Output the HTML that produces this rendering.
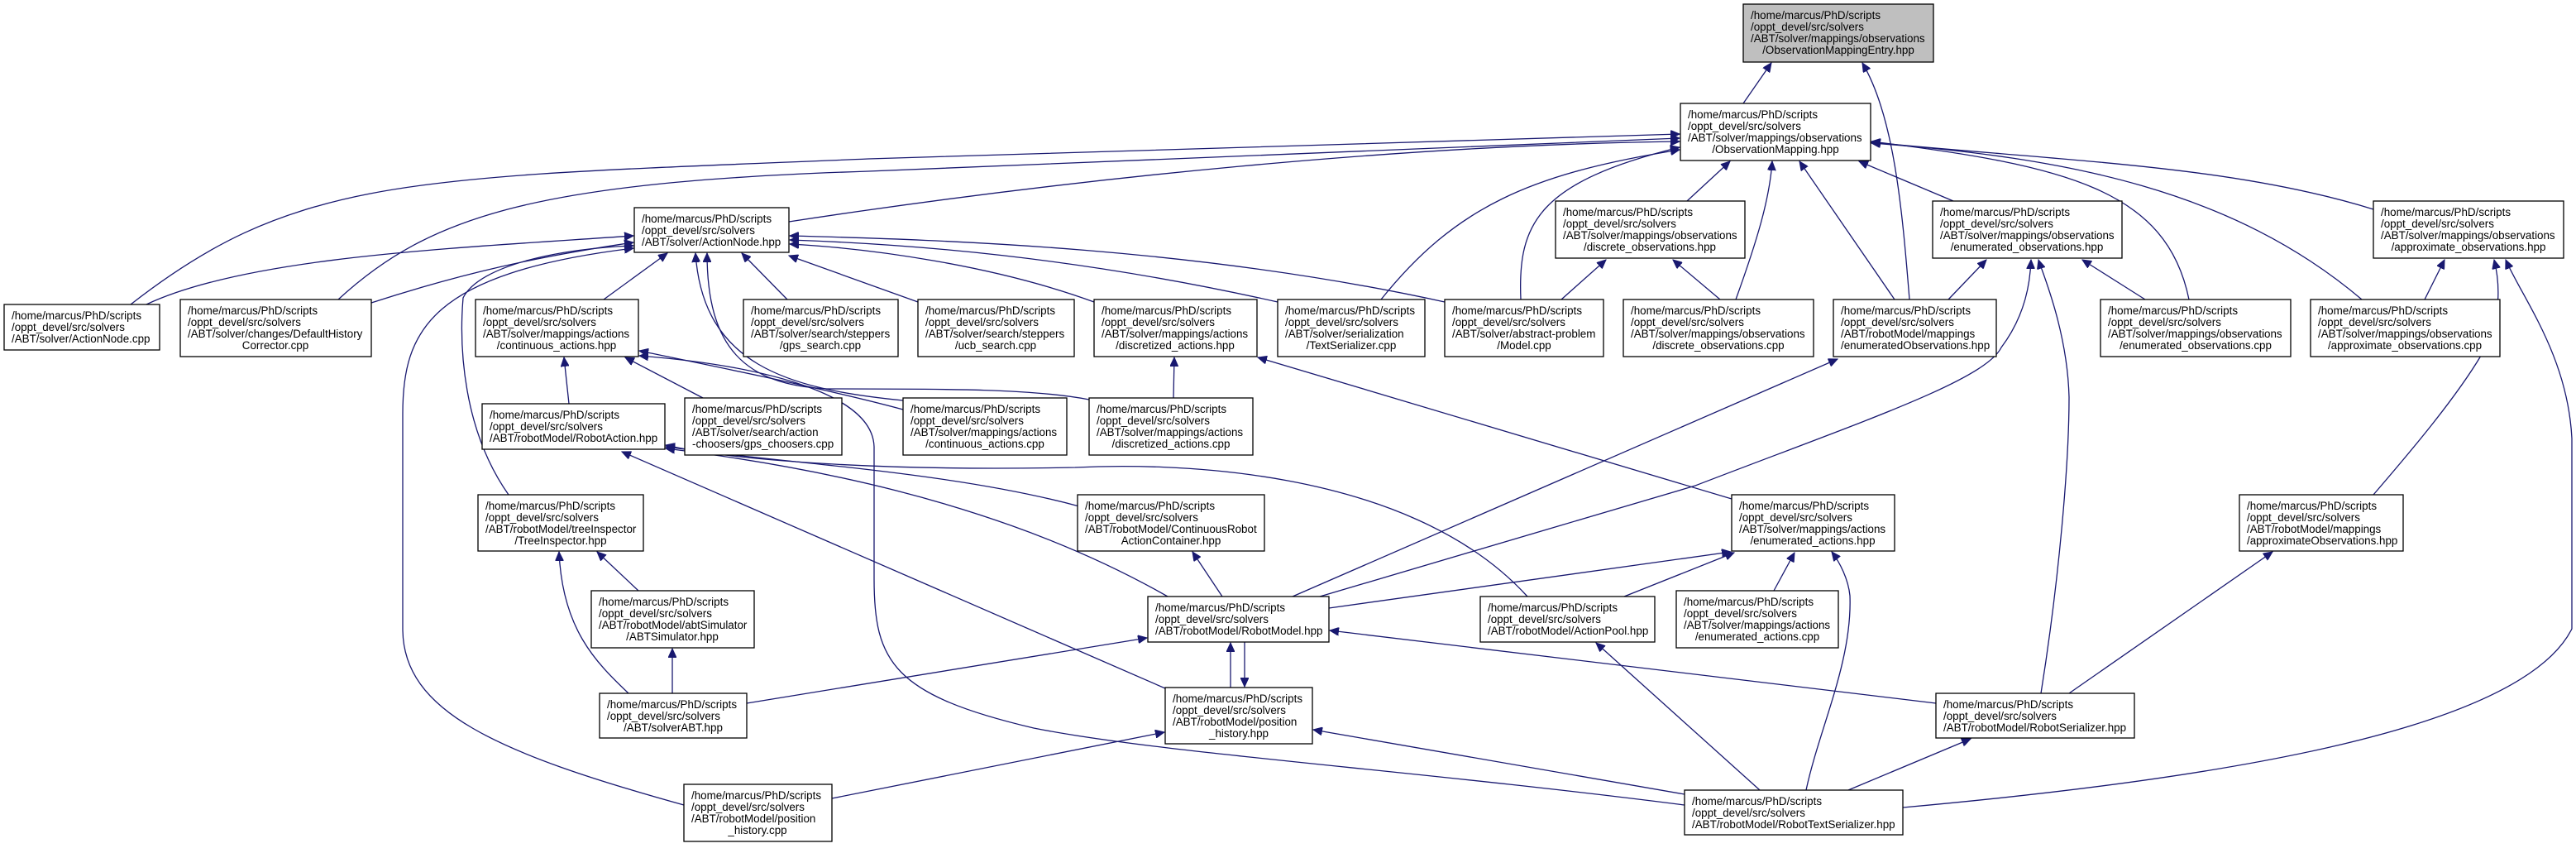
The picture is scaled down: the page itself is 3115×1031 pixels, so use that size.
<!DOCTYPE html>
<html><head><meta charset="utf-8"><style>
html,body{margin:0;padding:0;background:#fff;}
svg{display:block;}
text{font-family:"Liberation Sans",Arial,sans-serif;font-size:13.4px;fill:#000;}
.n{fill:#fff;stroke:#000;stroke-width:1.3;}
.g{fill:#bfbfbf;stroke:#000;stroke-width:1.3;}
.e{fill:none;stroke:#191970;stroke-width:1.3;}
</style></head><body>
<svg width="3115" height="1031" viewBox="0 0 3115 1031" xmlns="http://www.w3.org/2000/svg">
<defs><marker id="a" markerUnits="userSpaceOnUse" markerWidth="12" markerHeight="10" refX="11" refY="5" orient="auto"><path d="M0,0 L11,5 L0,10 z" fill="#191970" stroke="#191970"/></marker></defs>
<g marker-end="url(#a)">
<path class="e" d="M2108,125 L2142,76"/>
<path class="e" d="M2309,362 C2300,250 2290,140 2252,76"/>
<path class="e" d="M954,268 C1300,215 1700,175 2031,171"/>
<path class="e" d="M158,368 C360,210 500,215 1050,192 L2031,162"/>
<path class="e" d="M409,362 C520,260 650,220 1050,207 L2031,167"/>
<path class="e" d="M1670,362 C1760,250 1850,210 2031,181"/>
<path class="e" d="M1839,362 C1835,270 1860,220 2031,178"/>
<path class="e" d="M2040,243 L2092,195"/>
<path class="e" d="M2099,362 C2125,290 2140,240 2143,195"/>
<path class="e" d="M2291,362 L2176,195"/>
<path class="e" d="M2362,243 L2248,195"/>
<path class="e" d="M2647,362 C2620,230 2500,200 2263,171"/>
<path class="e" d="M2856,362 C2700,230 2500,190 2263,173"/>
<path class="e" d="M2870,253 C2700,200 2500,195 2263,172"/>
<path class="e" d="M177,368 C300,310 550,300 766,285"/>
<path class="e" d="M449,366 C560,330 650,310 766,293"/>
<path class="e" d="M730,362 L807,306"/>
<path class="e" d="M952,362 L897,306"/>
<path class="e" d="M1110,365 L954,309"/>
<path class="e" d="M1323,365 C1200,320 1050,300 955,295"/>
<path class="e" d="M1545,365 C1300,310 1100,295 955,290"/>
<path class="e" d="M1747,365 C1450,300 1150,290 955,285"/>
<path class="e" d="M615,598 C560,520 555,420 560,360 C580,320 680,300 766,297"/>
<path class="e" d="M827,973 C600,910 487,860 487,760 L487,500 C487,400 520,330 766,300"/>
<path class="e" d="M1092,484 C950,470 850,440 841,306"/>
<path class="e" d="M1317,483 C1250,470 1150,470 1000,470 C900,465 855,420 855,306"/>
<path class="e" d="M688,488 L682,432"/>
<path class="e" d="M850,481 L756,432"/>
<path class="e" d="M1092,495 C1000,470 850,440 773,424"/>
<path class="e" d="M2037,973 C1700,930 1400,910 1250,880 C1080,840 1057,800 1057,700 L1057,540 C1055,470 900,440 773,430"/>
<path class="e" d="M1478,721 L1442,667"/>
<path class="e" d="M1305,612 C1150,570 950,560 805,540"/>
<path class="e" d="M1412,721 C1200,600 950,560 805,542"/>
<path class="e" d="M1847,721 C1700,560 1400,560 1300,565 C1050,570 880,555 805,538"/>
<path class="e" d="M1409,832 L752,546"/>
<path class="e" d="M1563,721 L2222,434"/>
<path class="e" d="M1596,721 L2050,587 C2250,510 2400,460 2420,420 C2450,380 2455,340 2456,314"/>
<path class="e" d="M1607,735 L2093,667"/>
<path class="e" d="M1964,721 L2097,668"/>
<path class="e" d="M903,850 L1387,771"/>
<path class="e" d="M760,838 C720,800 680,760 676,667"/>
<path class="e" d="M813,838 L813,784"/>
<path class="e" d="M772,714 L722,667"/>
<path class="e" d="M1488,831 L1488,777"/>
<path class="e" d="M1505,776 L1505,830"/>
<path class="e" d="M1006,965 L1408,885"/>
<path class="e" d="M2037,960 L1588,882"/>
<path class="e" d="M2128,955 L1930,777"/>
<path class="e" d="M2184,955 C2200,880 2240,800 2237,720 C2235,700 2225,680 2215,667"/>
<path class="e" d="M2235,955 L2383,893"/>
<path class="e" d="M2301,976 C2700,940 3050,880 3110,760 L3110,530 C3105,430 3050,360 3030,314"/>
<path class="e" d="M2341,850 L1608,762"/>
<path class="e" d="M2468,838 C2490,700 2502,560 2502,480 C2500,400 2470,330 2465,314"/>
<path class="e" d="M2502,838 L2748,667"/>
<path class="e" d="M2870,598 C2920,540 2970,480 3000,430 C3030,380 3020,330 3016,314"/>
<path class="e" d="M2932,362 L2956,314"/>
<path class="e" d="M2594,362 L2518,314"/>
<path class="e" d="M2356,362 L2402,314"/>
<path class="e" d="M2080,362 L2023,314"/>
<path class="e" d="M1888,362 L1942,314"/>
<path class="e" d="M1419,481 L1420,432"/>
<path class="e" d="M2094,603 L1521,432"/>
<path class="e" d="M2145,714 L2170,668"/>
</g>

<rect class="g" x="2108" y="5" width="230" height="70"/>
<text x="2117" y="23">/home/marcus/PhD/scripts</text><text x="2117" y="37">/oppt_devel/src/solvers</text><text x="2117" y="51">/ABT/solver/mappings/observations</text><text x="2223" y="65" text-anchor="middle">/ObservationMappingEntry.hpp</text>

<rect class="n" x="2032" y="125" width="230" height="69"/>
<text x="2041" y="143">/home/marcus/PhD/scripts</text><text x="2041" y="157">/oppt_devel/src/solvers</text><text x="2041" y="171">/ABT/solver/mappings/observations</text><text x="2147" y="185" text-anchor="middle">/ObservationMapping.hpp</text>

<rect class="n" x="767" y="251" width="187" height="54"/>
<text x="776" y="269">/home/marcus/PhD/scripts</text><text x="776" y="283">/oppt_devel/src/solvers</text><text x="776" y="297">/ABT/solver/ActionNode.hpp</text>

<rect class="n" x="1881" y="243" width="229" height="69"/>
<text x="1890" y="261">/home/marcus/PhD/scripts</text><text x="1890" y="275">/oppt_devel/src/solvers</text><text x="1890" y="289">/ABT/solver/mappings/observations</text><text x="1995" y="303" text-anchor="middle">/discrete_observations.hpp</text>

<rect class="n" x="2337" y="243" width="229" height="69"/>
<text x="2346" y="261">/home/marcus/PhD/scripts</text><text x="2346" y="275">/oppt_devel/src/solvers</text><text x="2346" y="289">/ABT/solver/mappings/observations</text><text x="2451" y="303" text-anchor="middle">/enumerated_observations.hpp</text>

<rect class="n" x="2870" y="243" width="230" height="69"/>
<text x="2879" y="261">/home/marcus/PhD/scripts</text><text x="2879" y="275">/oppt_devel/src/solvers</text><text x="2879" y="289">/ABT/solver/mappings/observations</text><text x="2985" y="303" text-anchor="middle">/approximate_observations.hpp</text>

<rect class="n" x="5" y="368" width="188" height="55"/>
<text x="14" y="386">/home/marcus/PhD/scripts</text><text x="14" y="400">/oppt_devel/src/solvers</text><text x="14" y="414">/ABT/solver/ActionNode.cpp</text>

<rect class="n" x="218" y="362" width="231" height="69"/>
<text x="227" y="380">/home/marcus/PhD/scripts</text><text x="227" y="394">/oppt_devel/src/solvers</text><text x="227" y="408">/ABT/solver/changes/DefaultHistory</text><text x="333" y="422" text-anchor="middle">Corrector.cpp</text>

<rect class="n" x="575" y="362" width="197" height="69"/>
<text x="584" y="380">/home/marcus/PhD/scripts</text><text x="584" y="394">/oppt_devel/src/solvers</text><text x="584" y="408">/ABT/solver/mappings/actions</text><text x="673" y="422" text-anchor="middle">/continuous_actions.hpp</text>

<rect class="n" x="899" y="362" width="187" height="69"/>
<text x="908" y="380">/home/marcus/PhD/scripts</text><text x="908" y="394">/oppt_devel/src/solvers</text><text x="908" y="408">/ABT/solver/search/steppers</text><text x="992" y="422" text-anchor="middle">/gps_search.cpp</text>

<rect class="n" x="1110" y="362" width="189" height="69"/>
<text x="1119" y="380">/home/marcus/PhD/scripts</text><text x="1119" y="394">/oppt_devel/src/solvers</text><text x="1119" y="408">/ABT/solver/search/steppers</text><text x="1204" y="422" text-anchor="middle">/ucb_search.cpp</text>

<rect class="n" x="1323" y="362" width="197" height="69"/>
<text x="1332" y="380">/home/marcus/PhD/scripts</text><text x="1332" y="394">/oppt_devel/src/solvers</text><text x="1332" y="408">/ABT/solver/mappings/actions</text><text x="1421" y="422" text-anchor="middle">/discretized_actions.hpp</text>

<rect class="n" x="1545" y="362" width="178" height="69"/>
<text x="1554" y="380">/home/marcus/PhD/scripts</text><text x="1554" y="394">/oppt_devel/src/solvers</text><text x="1554" y="408">/ABT/solver/serialization</text><text x="1634" y="422" text-anchor="middle">/TextSerializer.cpp</text>

<rect class="n" x="1747" y="362" width="192" height="69"/>
<text x="1756" y="380">/home/marcus/PhD/scripts</text><text x="1756" y="394">/oppt_devel/src/solvers</text><text x="1756" y="408">/ABT/solver/abstract-problem</text><text x="1843" y="422" text-anchor="middle">/Model.cpp</text>

<rect class="n" x="1963" y="362" width="230" height="69"/>
<text x="1972" y="380">/home/marcus/PhD/scripts</text><text x="1972" y="394">/oppt_devel/src/solvers</text><text x="1972" y="408">/ABT/solver/mappings/observations</text><text x="2078" y="422" text-anchor="middle">/discrete_observations.cpp</text>

<rect class="n" x="2217" y="362" width="197" height="69"/>
<text x="2226" y="380">/home/marcus/PhD/scripts</text><text x="2226" y="394">/oppt_devel/src/solvers</text><text x="2226" y="408">/ABT/robotModel/mappings</text><text x="2226" y="422">/enumeratedObservations.hpp</text>

<rect class="n" x="2540" y="362" width="230" height="69"/>
<text x="2549" y="380">/home/marcus/PhD/scripts</text><text x="2549" y="394">/oppt_devel/src/solvers</text><text x="2549" y="408">/ABT/solver/mappings/observations</text><text x="2655" y="422" text-anchor="middle">/enumerated_observations.cpp</text>

<rect class="n" x="2794" y="362" width="229" height="69"/>
<text x="2803" y="380">/home/marcus/PhD/scripts</text><text x="2803" y="394">/oppt_devel/src/solvers</text><text x="2803" y="408">/ABT/solver/mappings/observations</text><text x="2908" y="422" text-anchor="middle">/approximate_observations.cpp</text>

<rect class="n" x="583" y="488" width="221" height="55"/>
<text x="592" y="506">/home/marcus/PhD/scripts</text><text x="592" y="520">/oppt_devel/src/solvers</text><text x="592" y="534">/ABT/robotModel/RobotAction.hpp</text>

<rect class="n" x="828" y="481" width="190" height="69"/>
<text x="837" y="499">/home/marcus/PhD/scripts</text><text x="837" y="513">/oppt_devel/src/solvers</text><text x="837" y="527">/ABT/solver/search/action</text><text x="837" y="541">-choosers/gps_choosers.cpp</text>

<rect class="n" x="1092" y="481" width="198" height="69"/>
<text x="1101" y="499">/home/marcus/PhD/scripts</text><text x="1101" y="513">/oppt_devel/src/solvers</text><text x="1101" y="527">/ABT/solver/mappings/actions</text><text x="1191" y="541" text-anchor="middle">/continuous_actions.cpp</text>

<rect class="n" x="1317" y="481" width="198" height="69"/>
<text x="1326" y="499">/home/marcus/PhD/scripts</text><text x="1326" y="513">/oppt_devel/src/solvers</text><text x="1326" y="527">/ABT/solver/mappings/actions</text><text x="1416" y="541" text-anchor="middle">/discretized_actions.cpp</text>

<rect class="n" x="578" y="598" width="200" height="68"/>
<text x="587" y="616">/home/marcus/PhD/scripts</text><text x="587" y="630">/oppt_devel/src/solvers</text><text x="587" y="644">/ABT/robotModel/treeInspector</text><text x="678" y="658" text-anchor="middle">/TreeInspector.hpp</text>

<rect class="n" x="1303" y="598" width="226" height="68"/>
<text x="1312" y="616">/home/marcus/PhD/scripts</text><text x="1312" y="630">/oppt_devel/src/solvers</text><text x="1312" y="644">/ABT/robotModel/ContinuousRobot</text><text x="1416" y="658" text-anchor="middle">ActionContainer.hpp</text>

<rect class="n" x="2094" y="598" width="197" height="68"/>
<text x="2103" y="616">/home/marcus/PhD/scripts</text><text x="2103" y="630">/oppt_devel/src/solvers</text><text x="2103" y="644">/ABT/solver/mappings/actions</text><text x="2192" y="658" text-anchor="middle">/enumerated_actions.hpp</text>

<rect class="n" x="2708" y="598" width="198" height="68"/>
<text x="2717" y="616">/home/marcus/PhD/scripts</text><text x="2717" y="630">/oppt_devel/src/solvers</text><text x="2717" y="644">/ABT/robotModel/mappings</text><text x="2717" y="658">/approximateObservations.hpp</text>

<rect class="n" x="715" y="714" width="197" height="69"/>
<text x="724" y="732">/home/marcus/PhD/scripts</text><text x="724" y="746">/oppt_devel/src/solvers</text><text x="724" y="760">/ABT/robotModel/abtSimulator</text><text x="813" y="774" text-anchor="middle">/ABTSimulator.hpp</text>

<rect class="n" x="1388" y="721" width="219" height="55"/>
<text x="1397" y="739">/home/marcus/PhD/scripts</text><text x="1397" y="753">/oppt_devel/src/solvers</text><text x="1397" y="767">/ABT/robotModel/RobotModel.hpp</text>

<rect class="n" x="1790" y="721" width="211" height="55"/>
<text x="1799" y="739">/home/marcus/PhD/scripts</text><text x="1799" y="753">/oppt_devel/src/solvers</text><text x="1799" y="767">/ABT/robotModel/ActionPool.hpp</text>

<rect class="n" x="2027" y="714" width="196" height="69"/>
<text x="2036" y="732">/home/marcus/PhD/scripts</text><text x="2036" y="746">/oppt_devel/src/solvers</text><text x="2036" y="760">/ABT/solver/mappings/actions</text><text x="2125" y="774" text-anchor="middle">/enumerated_actions.cpp</text>

<rect class="n" x="725" y="838" width="178" height="54"/>
<text x="734" y="856">/home/marcus/PhD/scripts</text><text x="734" y="870">/oppt_devel/src/solvers</text><text x="814" y="884" text-anchor="middle">/ABT/solverABT.hpp</text>

<rect class="n" x="1409" y="831" width="178" height="68"/>
<text x="1418" y="849">/home/marcus/PhD/scripts</text><text x="1418" y="863">/oppt_devel/src/solvers</text><text x="1418" y="877">/ABT/robotModel/position</text><text x="1498" y="891" text-anchor="middle">_history.hpp</text>

<rect class="n" x="2341" y="838" width="240" height="54"/>
<text x="2350" y="856">/home/marcus/PhD/scripts</text><text x="2350" y="870">/oppt_devel/src/solvers</text><text x="2350" y="884">/ABT/robotModel/RobotSerializer.hpp</text>

<rect class="n" x="827" y="948" width="179" height="69"/>
<text x="836" y="966">/home/marcus/PhD/scripts</text><text x="836" y="980">/oppt_devel/src/solvers</text><text x="836" y="994">/ABT/robotModel/position</text><text x="916" y="1008" text-anchor="middle">_history.cpp</text>

<rect class="n" x="2037" y="955" width="264" height="54"/>
<text x="2046" y="973">/home/marcus/PhD/scripts</text><text x="2046" y="987">/oppt_devel/src/solvers</text><text x="2046" y="1001">/ABT/robotModel/RobotTextSerializer.hpp</text>
</svg>
</body></html>
